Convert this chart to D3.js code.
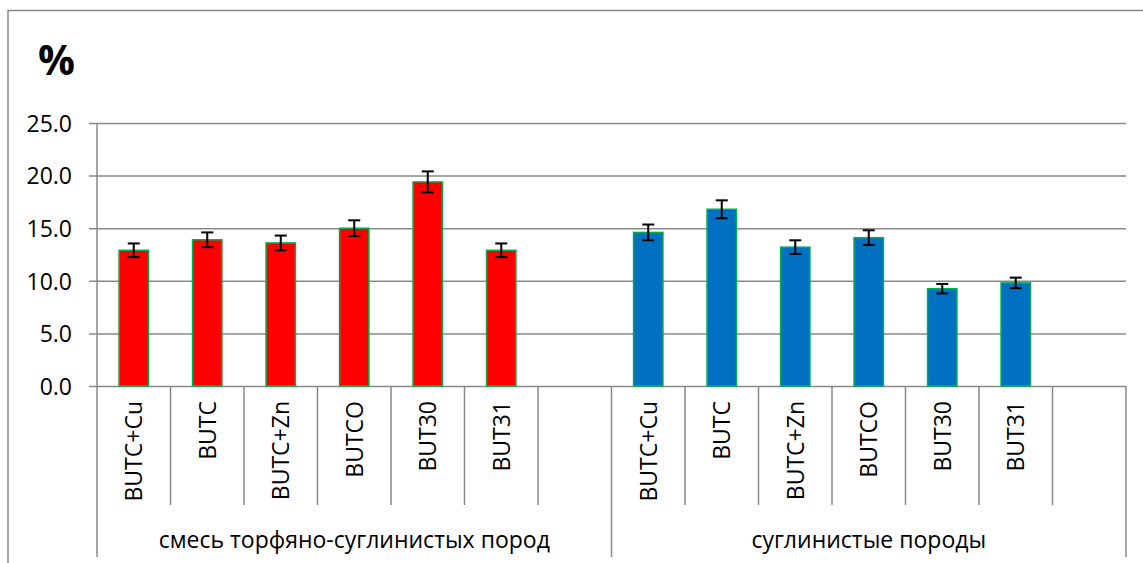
<!DOCTYPE html>
<html>
<head>
<meta charset="utf-8">
<script src="https://cdn.jsdelivr.net/npm/d3@7/dist/d3.min.js"></script>
<style>
  html, body { margin: 0; padding: 0; background: #fff; }
  svg { display: block; }
  text { font-family: "Open Sans", "DejaVu Sans", sans-serif; fill: #000; }
</style>
</head>
<body>
<svg id="chart" width="1143" height="563"></svg>
<script>
// ---- data ----
const groups = ["смесь торфяно-суглинистых пород", "суглинистые породы"];
const categories = ["BUTC+Cu", "BUTC", "BUTC+Zn", "BUTCO", "BUT30", "BUT31", ""];
const valuesPeatLoam = [12.9, 13.9, 13.6, 15.0, 19.4, 12.9];
const errorsPeatLoam = [0.65, 0.7, 0.7, 0.75, 1.0, 0.65];
const valuesLoam = [14.6, 16.8, 13.2, 14.1, 9.25, 9.8];
const errorsLoam = [0.75, 0.85, 0.65, 0.7, 0.45, 0.5];
const yTicks = [0, 5, 10, 15, 20, 25];
const yLabel = "%";

const seriesValues = [valuesPeatLoam, valuesLoam];
const seriesErrors = [errorsPeatLoam, errorsLoam];
const seriesColors = ["#FF0000", "#0070C0"];

(function () {
// ---- layout ----
const svg = d3.select("#chart");
const pL = 97, pR = 1126, pT = 123, pB = 386;
const gridColor = "#898989";
const fs = 23;

const slots = [];
groups.forEach((g, gi) => categories.forEach((c, ci) => slots.push({ key: gi + "_" + ci, g: gi, c: ci, label: c })));

const x = d3.scaleBand().domain(slots.map(d => d.key)).range([pL, pR]).padding(0);
const y = d3.scaleLinear().domain([0, 25]).range([pB, pT]);

// outer frame
svg.append("rect").attr("x", 8).attr("y", 10.5).attr("width", 1200).attr("height", 700)
  .attr("fill", "none").attr("stroke", gridColor).attr("stroke-width", 1.5);

// y label
svg.append("text").attr("x", 38).attr("y", 75).attr("font-size", 41).attr("font-weight", "bold").text(yLabel);

// gridlines + y axis
const yAxis = d3.axisLeft(y).tickValues(yTicks).tickFormat(d3.format(".1f"))
  .tickSize(-(pR - pL)).tickPadding(0);
const gy = svg.append("g").attr("transform", `translate(${pL},0)`).call(yAxis);
gy.select(".domain").remove();
gy.selectAll(".tick line").attr("stroke", gridColor).attr("stroke-width", 1.5).attr("x1", -8);
gy.selectAll(".tick text").attr("x", -25).attr("font-size", fs).attr("font-family", "'Open Sans', sans-serif")
  .attr("fill", "#000").attr("dy", "0.36em");

// vertical axis line
svg.append("line").attr("x1", pL).attr("x2", pL).attr("y1", pT).attr("y2", pB)
  .attr("stroke", gridColor).attr("stroke-width", 1.5);

// category dividers
slots.forEach(s => {
  const xs = x(s.key);
  const isGroupEdge = s.c === 0;
  svg.append("line").attr("x1", xs).attr("x2", xs).attr("y1", pB).attr("y2", isGroupEdge ? 557 : 505)
    .attr("stroke", gridColor).attr("stroke-width", 1.5);
});
svg.append("line").attr("x1", pR).attr("x2", pR).attr("y1", pB).attr("y2", 557)
  .attr("stroke", gridColor).attr("stroke-width", 1.5);

// bars
const barW = x.bandwidth() * 0.4;
seriesValues.forEach((vals, gi) => {
  const data = vals.map((v, ci) => ({ key: gi + "_" + ci, v, e: seriesErrors[gi][ci] }));
  svg.append("g").selectAll("rect").data(data).join("rect")
    .attr("x", d => x(d.key) + (x.bandwidth() - barW) / 2)
    .attr("y", d => y(d.v))
    .attr("width", barW)
    .attr("height", d => y(0) - y(d.v))
    .attr("fill", seriesColors[gi])
    .attr("stroke", "#00B050")
    .attr("stroke-width", 1.5);
  const eb = svg.append("g").attr("stroke", "#000").attr("stroke-width", 2);
  data.forEach(d => {
    const cx = x(d.key) + x.bandwidth() / 2;
    eb.append("line").attr("x1", cx).attr("x2", cx).attr("y1", y(d.v + d.e)).attr("y2", y(d.v - d.e));
    eb.append("line").attr("x1", cx - 6).attr("x2", cx + 6).attr("y1", y(d.v + d.e)).attr("y2", y(d.v + d.e));
    eb.append("line").attr("x1", cx - 6).attr("x2", cx + 6).attr("y1", y(d.v - d.e)).attr("y2", y(d.v - d.e));
  });
});

// category labels (rotated)
slots.forEach(s => {
  if (!s.label) return;
  const cx = x(s.key) + x.bandwidth() / 2;
  svg.append("text")
    .attr("transform", `translate(${cx},401) rotate(-90)`)
    .attr("text-anchor", "end")
    .attr("dy", "0.36em")
    .attr("font-size", fs)
    .text(s.label);
});

// group labels
groups.forEach((g, gi) => {
  const x0 = x(gi + "_0");
  const x1 = x(gi + "_" + (categories.length - 1)) + x.bandwidth();
  svg.append("text").attr("x", (x0 + x1) / 2).attr("y", 548)
    .attr("text-anchor", "middle").attr("font-size", fs).text(g);
});
})();
</script>
</body>
</html>
